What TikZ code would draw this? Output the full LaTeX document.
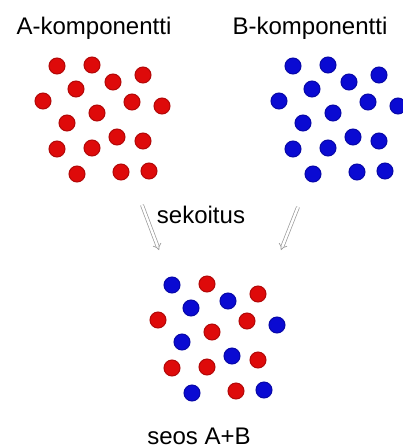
\documentclass[tikz,border=0pt]{standalone}
\usepackage{fontspec}
\setmainfont{Liberation Sans}
\usetikzlibrary{arrows.meta}

\begin{document}
\begin{tikzpicture}[x=1pt, y=-1pt, font=\fontsize{24}{28}\selectfont,
  ball/.style={circle, inner sep=0pt, minimum size=16pt, line width=1pt},
  caption/.style={anchor=base, inner sep=1pt},
  mixarrow/.style={draw=black!40, double=white, double distance=2.4pt, line width=0.7pt, -{Implies}}]
  \definecolor{compred}{RGB}{222,10,10}
  \definecolor{compblue}{RGB}{10,10,210}
  \useasboundingbox (0,0) rectangle (403,448);
  \node[caption] (labA) at (94,34) {A-komponentti};
  \node[caption] (labB) at (310,34) {B-komponentti};
  \foreach \dx/\dy [count=\i] in {0/0, 35/-1, 86/9, 56/16, 19/23, -14/35, 75/36, 105/40, 40/47,
      10/57, 60/71, 86/75, 0/83, 35/82, 20/108, 64/106, 92/105} {
    \node[ball, fill=compred, draw=compred!80!black] (a\i) at (57+\dx,66+\dy) {};
    \node[ball, fill=compblue, draw=compblue!80!black] (b\i) at (293+\dx,66+\dy) {};
  }
  \node[caption] (mixing) at (201,223) {sekoitus};
  \coordinate (arrAs) at (142,205);
  \coordinate (arrAe) at (159,250);
  \coordinate (arrBs) at (298,207);
  \coordinate (arrBe) at (281,250);
  \draw[mixarrow] (arrAs) -- (arrAe);
  \draw[mixarrow] (arrBs) -- (arrBe);
  \foreach \dx/\dy/\c [count=\i] in {0/0/blue, 35/-1/red, 86/9/red, 56/16/blue, 19/23/blue,
      -14/35/red, 75/36/red, 105/40/blue, 40/47/red, 10/57/blue, 60/71/blue, 86/75/red,
      0/83/red, 35/82/red, 20/108/blue, 64/106/red, 92/105/blue} {
    \node[ball, fill=comp\c, draw=comp\c!80!black] (m\i) at (172+\dx,285+\dy) {};
  }
  \node[caption] (labmix) at (199,444) {seos A+B};
\end{tikzpicture}
\end{document}
